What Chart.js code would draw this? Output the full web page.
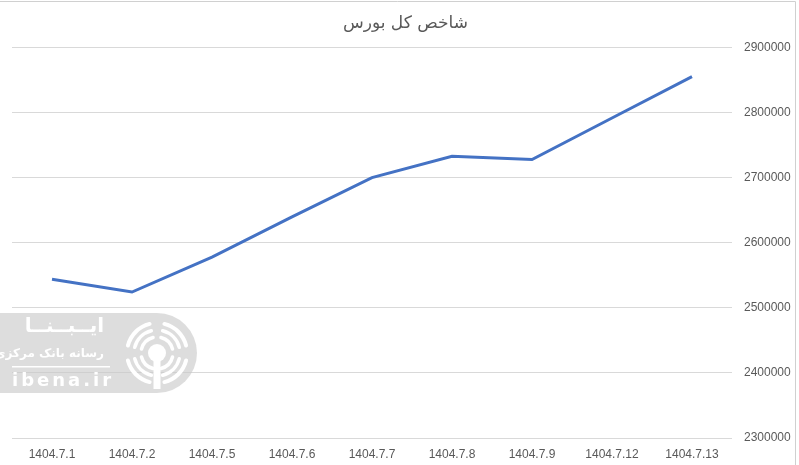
<!DOCTYPE html>
<html>
<head>
<meta charset="utf-8">
<script src="https://cdn.jsdelivr.net/npm/chart.js@4/dist/chart.umd.min.js"></script>
<style>
  html, body { margin: 0; padding: 0; background: #fff; }
  #wrap { width: 799px; height: 465px; position: relative; }
</style>
</head>
<body>
<div id="wrap"><canvas id="IndexChart" width="799" height="465"></canvas></div>
<script>
// data
const days = ['1404.7.1', '1404.7.2', '1404.7.5', '1404.7.6', '1404.7.7', '1404.7.8', '1404.7.9', '1404.7.12', '1404.7.13']
const indexValues = [2543800, 2524200, 2578000, 2639800, 2700000, 2732900, 2727800, 2791500, 2855100]
const yTicks = [2300000, 2400000, 2500000, 2600000, 2700000, 2800000, 2900000]
const chartTitle = 'شاخص کل بورس'

const gray = '#595959'
const gridGray = '#d9d9d9'

// sheet frame + watermark, drawn on top of the chart
const frame = {
    id: 'frame',
    afterDraw(chart){
        const c = chart.ctx
        c.save()
        c.strokeStyle = '#d0d0d0'
        c.lineWidth = 1
        c.beginPath()
        c.moveTo(0, 1.5); c.lineTo(795.5, 1.5)
        c.moveTo(795.5, 1.5); c.lineTo(795.5, 465)
        c.stroke()

        // ibena watermark
        c.fillStyle = 'rgba(200,200,200,0.62)'
        c.beginPath()
        c.moveTo(0, 313)
        c.lineTo(157, 313)
        c.arc(157, 353, 40, -Math.PI / 2, Math.PI / 2)
        c.lineTo(0, 393)
        c.closePath()
        c.fill()

        c.strokeStyle = '#fff'
        c.fillStyle = '#fff'
        c.lineCap = 'round'
        const cx = 157, cy = 353
        ;[[30, 4], [23, 3.5], [16, 3.5]].forEach(([r, w]) => {
            c.lineWidth = w
            for (let k = 0; k < 4; k++){
                const a0 = -Math.PI / 2 + k * Math.PI / 2 + 0.25
                c.beginPath()
                c.arc(cx, cy, r, a0, a0 + Math.PI / 2 - 0.5)
                c.stroke()
            }
        })
        c.beginPath(); c.arc(cx, cy, 9, 0, Math.PI * 2); c.fill()
        c.fillRect(cx - 3.5, cy, 7, 36)

        c.textBaseline = 'middle'
        c.direction = 'ltr'
        c.textAlign = 'right'
        c.font = 'bold 20px "DejaVu Sans"'
        c.fillText('ایــبــنــا', 104, 327)
        c.font = 'bold 12px "DejaVu Sans"'
        c.fillText('رسانه بانک مرکزی', 104, 354)
        c.fillRect(12, 366, 98, 1.5)
        c.textAlign = 'left'
        c.font = 'bold 18px "DejaVu Sans"'
        c.letterSpacing = '3px'
        c.fillText('ibena.ir', 12, 381)
        c.restore()
    }
}

new Chart(
    document.getElementById('IndexChart'),
    {
        type: 'line',
        data: {
            labels: days,
            datasets: [
                {
                label: chartTitle,
                data: indexValues,
                borderColor: '#4472C4',
                borderWidth: 3,
                pointRadius: 0,
                tension: 0,
                fill: false,
                }
            ]
        },
        options: {
            responsive: false,
            animation: false,
            layout: { padding: { left: 12, right: 0, top: 0, bottom: 0 } },
            plugins: {
                legend: { display: false },
                tooltip: { enabled: false },
                title: {
                    display: true,
                    text: chartTitle,
                    color: gray,
                    font: { family: '"DejaVu Sans", sans-serif', size: 17, weight: 'normal' },
                    padding: { top: 13, bottom: 14 },
                },
            },
            scales: {
                x: {
                    offset: true,
                    grid: { display: false, drawTicks: false },
                    border: { display: false },
                    afterFit: (scale) => { scale.height = 27 },
                    ticks: {
                        color: gray,
                        font: { family: '"Liberation Sans", Arial, sans-serif', size: 12 },
                        padding: 9,
                        maxRotation: 0,
                        autoSkip: false,
                    },
                },
                y: {
                    position: 'right',
                    min: yTicks[0],
                    max: yTicks[yTicks.length - 1],
                    afterBuildTicks: (scale) => { scale.ticks = yTicks.map(v => ({ value: v })) },
                    afterFit: (scale) => { scale.width = 67 },
                    grid: { color: gridGray, lineWidth: 1, drawTicks: false },
                    border: { display: false },
                    ticks: {
                        color: gray,
                        font: { family: '"Liberation Sans", Arial, sans-serif', size: 12 },
                        padding: 12,
                        callback: (v) => String(v),
                    },
                },
            },
        },
        plugins: [frame],
    }
)
</script>
</body>
</html>
